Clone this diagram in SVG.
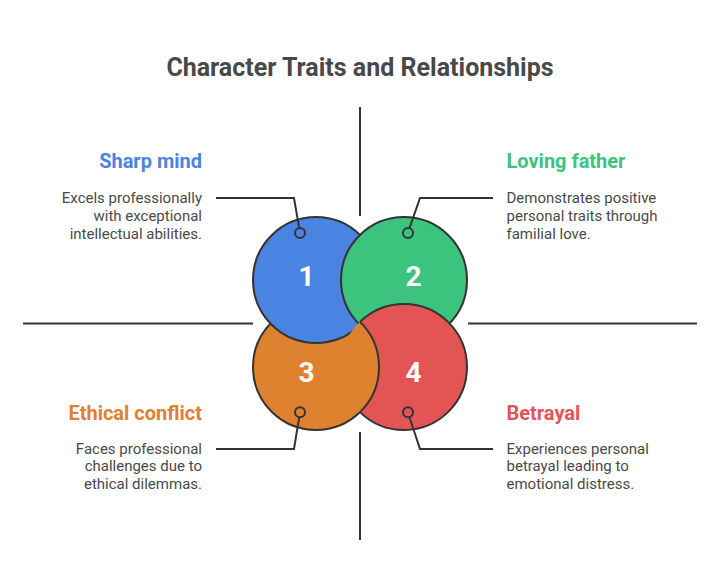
<svg xmlns="http://www.w3.org/2000/svg" width="720" height="587" viewBox="0 0 720 587">
<style>
.title{font-family:Roboto,"Liberation Sans",sans-serif;font-weight:bold;font-size:25px;fill:#484848;text-anchor:middle}
.head{font-family:Roboto,"Liberation Sans",sans-serif;font-weight:bold;font-size:20px}
.desc{font-family:Roboto,"Liberation Sans",sans-serif;font-size:15px;fill:#4a4a4a}
.num{font-family:Roboto,"Liberation Sans",sans-serif;font-weight:bold;font-size:28px;fill:#fff;text-anchor:middle}
.ln{fill:none;stroke:#333;stroke-width:2}
.c{stroke:#333;stroke-width:2}
.dot{fill:none;stroke:#333;stroke-width:2}
.r{text-anchor:end}
</style>
<rect width="720" height="587" fill="#fff"/>
<text class="title" x="360" y="76">Character Traits and Relationships</text>
<g id="axes">
<line class="ln" x1="360" y1="107" x2="360" y2="216"/>
<line class="ln" x1="360" y1="432" x2="360" y2="540"/>
<line class="ln" x1="23" y1="323.5" x2="253" y2="323.5"/>
<line class="ln" x1="468" y1="323.5" x2="697" y2="323.5"/>
</g>
<g id="circles">
<circle id="c3" class="c" cx="316" cy="367" r="63" fill="#DF8230"/>
<circle id="c1" class="c" cx="316" cy="280" r="63" fill="#4A84E3"/>
<circle id="c2" class="c" cx="404" cy="280" r="63" fill="#3CC47E"/>
<circle id="c4" cx="404" cy="367" r="63" fill="#E35555"/>
<path class="ln" d="M360,321.9 A63,63 0 1,1 360,412.1"/>
<path d="M360,321.9 A63,63 0 0,1 360,412.1 A63,63 0 0,1 360,321.9 Z" fill="#DF8230" stroke="#DF8230" stroke-width="1"/>
<path class="ln" d="M360,321.9 A63,63 0 0,1 360,412.1"/>
</g>
<g id="node1">
<text class="num" x="306.5" y="286">1</text>
<text class="head r" x="202" y="168" fill="#4A84E3">Sharp mind</text>
<text class="desc r" x="202" y="203">Excels professionally</text>
<text class="desc r" x="202" y="221">with exceptional</text>
<text class="desc r" x="202" y="238.5">intellectual abilities.</text>
</g>
<g id="node2">
<text class="num" x="413.5" y="286">2</text>
<text class="head" x="506.5" y="168" fill="#3CC47E">Loving father</text>
<text class="desc" x="506.5" y="203">Demonstrates positive</text>
<text class="desc" x="506.5" y="221">personal traits through</text>
<text class="desc" x="506.5" y="238.5">familial love.</text>
</g>
<g id="node3">
<text class="num" x="306.5" y="381.5">3</text>
<text class="head r" x="202" y="419.5" fill="#DF8230">Ethical conflict</text>
<text class="desc r" x="202" y="453.5">Faces professional</text>
<text class="desc r" x="202" y="471">challenges due to</text>
<text class="desc r" x="202" y="489">ethical dilemmas.</text>
</g>
<g id="node4">
<text class="num" x="413.5" y="381.5">4</text>
<text class="head" x="506.5" y="419.5" fill="#E35555">Betrayal</text>
<text class="desc" x="506.5" y="453.5">Experiences personal</text>
<text class="desc" x="506.5" y="471">betrayal leading to</text>
<text class="desc" x="506.5" y="489">emotional distress.</text>
</g>
<g id="connectors">
<polyline class="ln" points="216,198 294,198 299.2,228.2"/>
<circle class="dot" cx="300" cy="233" r="5"/>
<polyline class="ln" points="493,198 420,198 409.5,228.2"/>
<circle class="dot" cx="408" cy="233" r="5"/>
<polyline class="ln" points="216,449 294,449 299.2,417.3"/>
<circle class="dot" cx="300" cy="412.3" r="5"/>
<polyline class="ln" points="493,449 420,449 409.5,417.3"/>
<circle class="dot" cx="408" cy="412.3" r="5"/>
</g>
</svg>
